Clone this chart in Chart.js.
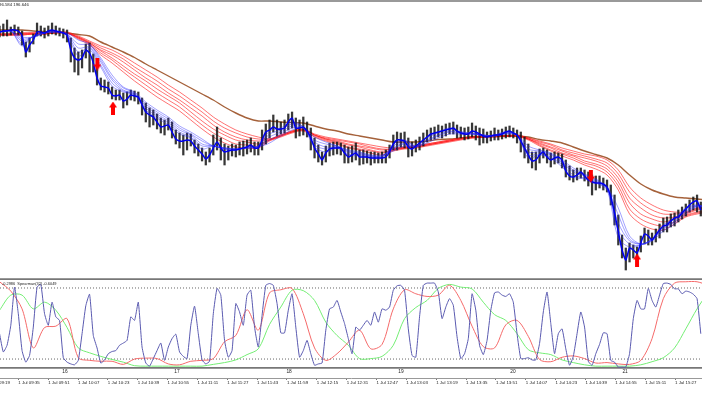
<!DOCTYPE html>
<html>
<head>
<meta charset="utf-8">
<title>Chart</title>
<script src="https://cdn.jsdelivr.net/npm/chart.js@4/dist/chart.umd.min.js"></script>
<style>
html, body { margin: 0; padding: 0; background: #fff; overflow: hidden; }
canvas { position: absolute; left: 0; filter: blur(0.4px); }
#priceChart { top: 0; }
#spearmanChart { top: 278px; }
</style>
</head>
<body>
<canvas id="priceChart" width="702" height="278"></canvas>
<canvas id="spearmanChart" width="702" height="117"></canvas>
<script>
// the price axis is cropped out of the screenshot, so levels are in relative chart units
const priceHeader = '96.584 196.646';
const spearmanHeader = '-0.2986  Spearman(32) -0.6049';

const timeLabels = ['1 Jul 09:19', '1 Jul 09:35', '1 Jul 09:51', '1 Jul 10:07', '1 Jul 10:23', '1 Jul 10:39',
    '1 Jul 10:55', '1 Jul 11:11', '1 Jul 11:27', '1 Jul 11:43', '1 Jul 11:59', '1 Jul 12:15', '1 Jul 12:31',
    '1 Jul 12:47', '1 Jul 13:03', '1 Jul 13:19', '1 Jul 13:35', '1 Jul 13:51', '1 Jul 14:07', '1 Jul 14:23',
    '1 Jul 14:39', '1 Jul 14:55', '1 Jul 15:11', '1 Jul 15:27'];
const timeTickBars = [-5.92, 10, 25.92, 41.84, 57.76, 73.68, 89.6, 105.52, 121.44, 137.36, 153.28, 169.2, 185.12,
    201.04, 216.96, 232.88, 248.8, 264.72, 280.64, 296.56, 312.48, 328.4, 344.32, 360.24];
const dayLabels = ['16', '17', '18', '19', '20', '21'];
const dayBars = [34.9, 94.6, 154.4, 214.1, 273.8, 333.6];

const fineBars = Array.from({ length: 188 }, (_, i) => i * 2);
const coarseBars = Array.from({ length: 64 }, (_, i) => i * 6);

const candleHigh = [
    274,276,280,273,275,273,269,258,262,266,
    277,274,272,274,277,274,272,271,270,262,
    252,248,250,256,257,246,234,222,220,218,
    213,210,210,207,208,210,209,208,202,197,
    192,190,186,182,180,182,178,170,167,165,
    167,166,160,156,152,148,152,165,173,162,
    156,154,156,155,158,159,160,162,158,158,
    170,176,180,185,180,178,180,186,188,182,
    180,183,178,172,162,155,148,154,157,158,
    158,157,155,153,154,157,150,150,149,148,
    148,147,148,150,155,165,168,167,168,162,
    158,160,163,167,170,172,173,175,174,176,
    177,178,175,173,172,173,177,174,172,171,
    168,169,172,170,171,173,174,172,170,168,
    163,156,148,148,151,152,150,147,148,147,
    146,140,134,130,132,132,130,128,125,124,
    124,122,120,115,105,85,65,52,57,55,
    53,64,72,70,67,71,76,82,83,86,
    87,90,93,96,100,103,105,98];
const candleLow = [
    263,264,264,265,266,265,255,243,248,256,
    264,264,262,264,266,265,264,262,258,238,
    228,225,232,242,228,228,215,210,208,206,
    201,200,200,192,195,200,199,196,185,178,
    173,175,171,167,165,170,162,156,152,145,
    150,154,147,144,139,135,138,145,150,140,
    135,140,144,143,145,144,146,148,145,145,
    150,156,162,168,164,166,167,170,172,162,
    164,165,163,150,142,138,135,138,144,145,
    146,145,137,137,138,140,135,136,137,135,
    137,137,137,137,142,150,150,153,152,143,
    144,148,150,154,158,160,161,163,162,164,
    166,166,162,162,160,161,163,160,155,157,
    157,159,160,160,161,162,163,162,157,148,
    142,137,132,130,137,142,137,133,136,137,
    132,123,120,118,120,122,119,114,105,110,
    112,110,108,95,75,55,42,30,38,42,
    42,48,56,55,55,58,62,68,68,73,
    74,78,81,84,88,90,88,84];

// fastest blue average, same spacing as the candles
const blueFast = [
    268,269,269,270,270,269,264,248,255,260,
    268,268,267,269,270,269,268,267,265,250,
    242,240,242,250,247,237,222,214,213,212,
    205,204,205,199,201,205,204,203,195,188,
    185,183,178,173,174,175,168,161,159,159,
    160,159,154,150,146,141,145,152,158,152,
    148,149,150,150,151,152,153,155,152,152,
    160,168,170,173,171,171,172,178,182,172,
    172,173,169,162,152,146,140,147,151,152,
    152,152,147,143,145,147,143,143,143,142,
    142,142,142,143,148,156,160,160,159,153,
    151,154,157,160,163,166,167,168,169,170,
    171,172,169,167,166,166,169,168,166,164,
    163,164,165,165,166,168,169,167,165,159,
    152,145,139,140,145,148,143,140,142,143,
    140,129,124,123,125,128,124,120,118,117,
    117,116,113,103,87,68,50,40,52,50,
    47,57,66,64,60,65,70,74,75,79,
    82,83,87,91,95,98,99,90];

const blue2 = [268,269,254,264,267.5,269,264,244,250,233,214,208,205,190,182,175,166,162,151,154,
    151,150,153,154,169,172,178,173,153,148,152,145,144,142,142,156,160,154,163,168,
    172,168,167,164,165,168,165,142,145,142,133,123,121,117,110,62,53,55,61,75,82,92,95,92];
const blue3 = [268,269,256,264,267,269,265,248,252,235,217,209,206,192,184,177,168,163,154,154,
    151,150,153,154,166,170,176,173,155,151,153,146,145,143,143,154,159,154,162,167,
    171,168,167,164,165,168,165,145,146,143,135,125,122,118,111,70,56,55,61,74,81,91,95,92];
const blue4 = [268,269,259,263,267,268,266,252,253,238,220,210,206,194,186,179,170,165,156,154,
    152,151,152,153,163,168,174,172,158,153,153,148,146,144,144,152,157,153,160,165,
    169,167,166,165,164,167,165,148,148,145,137,128,124,119,112,77,59,56,60,72,79,89,94,92];
const blue5 = [268,269,261,263,267,268,266,256,255,240,222,212,207,196,188,181,172,166,159,154,
    152,151,152,153,160,166,172,172,160,156,154,149,147,144,144,151,156,153,159,164,
    168,167,166,165,164,167,165,151,149,146,138,130,125,120,112,85,61,56,60,71,78,88,94,92];
const blue6 = [268,269,263,263,267,268,267,260,256,242,225,213,208,198,190,183,174,168,161,154,
    152,151,152,153,157,164,170,172,163,158,154,150,148,145,145,149,154,153,157,162,
    166,166,166,165,164,166,165,154,150,147,140,132,126,121,113,92,64,56,59,69,76,86,93,92];

const red1 = [265,265,265,266,266,267,267,261,255,245,237,228,219,211,203,196,189,180,171,163,
    157,153,152,152,159,163,167,169,163,159,156,152,150,147,145,149,151,152,154,156,
    158,160,162,162.5,163,163.5,163.5,160,154,149,144,140,135,131,125,110,86,76,71,70,76,83,86,88];
const red2 = [265,265,265,266,266,267,267,262,256,247,240,231,223,215,207,200,193,184,175,167,
    161,156,155,154,160,164,168,170,164,160,157,153,151,149,147,150,152,153,155,157,
    159,161,162,163,163,164,164,161,155,150,146,142,137,134,128,114,91,81,76,74,78,84,87,89];
const red3 = [265,265,266,266,266,267,267,262,257,249,242,234,226,219,211,204,197,188,179,171,
    165,160,158,156,160,164,168,170,165,161,158,155,153,150,148,150,152,153,155,157,
    159,161,163,163,164,164,164,161,156,152,147,144,139,136,131,118,97,86,81,78,81,85,88,90];
const red4 = [266,266,266,267,267,268,267,263,257,250,245,238,230,222,215,207,200,192,184,175,
    168,163,160,159,160,164,168,170,165,161,159,156,154,152,150,151,152,153,155,157,
    159,161,163,163,164,164,164,161,157,153,149,145,142,139,134,122,102,92,85,82,83,86,90,92];
const red5 = [266,266,267,267,267,268,267,263,258,252,247,241,233,226,219,211,204,196,188,179,
    172,167,163,161,161,165,169,171,165,162,160,158,156,153,151,151,153,154,156,158,
    160,162,163,164,164,164,165,162,158,155,150,147,144,141,137,126,108,97,90,86,86,87,91,93];
const red6 = [266,266,267,267,267,268,268,264,259,254,250,244,237,230,223,215,208,200,192,183,
    176,170,166,163,161,165,169,171,166,163,161,159,157,155,153,152,153,154,156,158,
    160,162,163.5,164,164.5,164.5,165,162,159,156,152,149,146,144,140,130,113,102,95,90,88,88,92,94];

const brownSlow = [270,270,270,269,268.5,268,267,265.5,264,258,253,248,242.5,236,230,224,218,212,206,200,
    193,187,182,179,179,178,177.5,177,174,171,169,166,164,162,160,158,158,158,159,160.5,
    161,162,163,163.5,164,164,164,163,160.5,159,157,153,149,145.5,142,135,125,116,110,106,103,102,101,100];

const upArrowBars = [60.5, 340];
const upArrowLevels = [192, 40];
const downArrowBars = [52.2, 315.4];
const downArrowLevels = [236, 124];

// Spearman panel
const spearmanBlue = [
    -.23,-.64,-.49,-.04,.82,.22,-.61,-.87,-.72,-.08,
    .82,.88,.22,-.04,.48,.15,.07,-.77,-.87,-.91,
    -.93,-.83,-.23,.40,.66,-.27,-.55,-.89,-.82,-.68,
    -.63,-.61,-.49,-.44,-.38,.15,.07,.48,-.53,-.89,
    -.96,-.79,-.61,-.44,-.83,-.53,-.34,-.24,-.64,-.74,
    -.79,-.04,.39,-.23,-.82,-.91,-.85,.22,.79,.64,
    -.38,-.76,-.61,.45,.26,-.04,.64,.75,-.08,-.53,
    .18,.86,.90,.86,.45,-.21,-.21,.30,.67,-.08,
    -.76,-.61,-.38,-.68,-.94,-.91,-.89,-.15,.33,.37,
    .52,.26,0,-.34,-.68,-.08,-.15,-.04,.07,-.04,
    .26,.03,.33,.30,.37,.75,.85,.86,.75,-.12,
    -.72,-.76,.15,.86,.91,.91,.91,.71,.11,.37,
    .56,.41,-.30,-.79,-.68,-.34,.67,.30,-.49,-.70,
    -.38,.30,.69,.71,.64,.61,.67,.48,-.23,-.79,
    -.79,-.77,-.82,-.82,-.45,.26,.71,0,-.68,-.23,
    -.12,-.57,-.94,-.74,-.23,.26,-.08,-.85,-.94,-.68,
    -.47,-.21,-.23,-.83,-.87,-.98,-.98,-.98,-.68,.11,
    .52,.33,.33,.79,.52,.37,.64,.90,.91,.88,
    .78,.78,.67,.73,.71,.66,.56,-.23];
const spearmanRed = [.94,.73,.33,-.55,-.09,-.06,.11,-.77,-.83,-.85,-.85,-.92,-.80,-.78,-.79,-.91,-.93,-.85,-.83,-.79,
    -.41,-.27,.31,-.15,.69,.76,.79,.22,-.55,-.83,-.68,-.42,-.15,-.57,-.47,.33,.76,.67,.61,.64,
    .86,.52,-.06,-.52,-.55,-.03,.07,-.29,-.81,-.86,-.76,-.73,-.79,-.89,-.88,-.91,-.92,-.83,-.34,.56,.91,.94,.94,.86];
const spearmanGreen = [.30,.64,.64,.33,.48,.30,-.09,-.55,-.66,-.74,-.81,-.87,-.95,-.96,-.96,-.96,-.96,-.96,-.96,-.92,
    -.88,-.82,-.70,-.57,-.02,.37,.75,.74,.52,.03,-.27,-.49,-.79,-.79,-.74,-.49,.11,.36,.52,.79,
    .88,.82,.78,.48,.20,.07,-.23,-.59,-.66,-.70,-.82,-.88,-.93,-.96,-.96,-.96,-.96,-.93,-.86,-.77,-.55,-.12,.33,.71];
const spearmanLevels = [0.8, -0.8];
const spearmanFrame = [1, -1];

const barMin = 0.24;
const barMax = 374.64;
const textColor = '#222';

function zip(xs, ys) {
    return ys.map((y, i) => ({ x: xs[i], y: y }));
}

function lineSet(xs, ys, color, width, order, tension) {
    return {
        type: 'line',
        data: zip(xs, ys),
        borderColor: color,
        borderWidth: width,
        pointRadius: 0,
        tension: tension,
        order: order
    };
}

function flatLine(value, color, width, dash) {
    const set = lineSet([barMin, barMax], [value, value], color, width, 9, 0);
    set.borderDash = dash;
    return set;
}

function makeArrow() {
    const c = document.createElement('canvas');
    c.width = 8;
    c.height = 13;
    const g = c.getContext('2d');
    g.fillStyle = '#ff0000';
    g.beginPath();
    g.moveTo(4, 0);
    g.lineTo(8, 6);
    g.lineTo(6, 6);
    g.lineTo(6, 13);
    g.lineTo(2, 13);
    g.lineTo(2, 6);
    g.lineTo(0, 6);
    g.closePath();
    g.fill();
    return c;
}

function arrowSet(xs, ys, rotation) {
    return {
        type: 'scatter',
        data: zip(xs, ys),
        pointStyle: makeArrow(),
        pointRotation: rotation,
        pointRadius: 6,
        showLine: false,
        order: 0
    };
}

const priceText = {
    id: 'priceText',
    afterDraw(chart) {
        const ctx = chart.ctx;
        ctx.save();
        ctx.font = '4.3px "Liberation Sans"';
        ctx.fillStyle = textColor;
        ctx.textBaseline = 'middle';
        ctx.fillText(priceHeader, -1, 5);
        ctx.restore();
    }
};

const spearmanText = {
    id: 'spearmanText',
    afterDraw(chart) {
        const ctx = chart.ctx;
        const xs = chart.scales.x;
        const ys = chart.scales.y;
        ctx.save();
        ctx.font = '3.9px "Liberation Sans"';
        ctx.fillStyle = textColor;
        ctx.textBaseline = 'middle';
        ctx.fillText(spearmanHeader, 2, ys.getPixelForValue(0.9));
        ctx.font = '4.8px "Liberation Sans"';
        ctx.textAlign = 'center';
        dayLabels.forEach((label, i) => {
            ctx.fillText(label, xs.getPixelForValue(dayBars[i]), ys.getPixelForValue(-1.09));
        });
        ctx.restore();
    }
};

const blueThin = 'rgba(40,40,255,0.55)';
const redThin = 'rgba(255,20,20,0.6)';

new Chart(document.getElementById('priceChart'), {
    type: 'bar',
    data: {
        datasets: [
            arrowSet(upArrowBars, upArrowLevels, 0),
            arrowSet(downArrowBars, downArrowLevels, 180),
            lineSet(fineBars, blueFast, '#0000f0', 1.5, 1, 0.2),
            lineSet(coarseBars, blue2, blueThin, 0.8, 2, 0.3),
            lineSet(coarseBars, blue3, blueThin, 0.8, 2, 0.3),
            lineSet(coarseBars, blue4, blueThin, 0.8, 2, 0.3),
            lineSet(coarseBars, blue5, blueThin, 0.8, 2, 0.3),
            lineSet(coarseBars, blue6, blueThin, 0.8, 2, 0.3),
            {
                type: 'bar',
                data: candleLow.map((low, i) => ({ x: fineBars[i], y: [low, candleHigh[i]] })),
                backgroundColor: 'rgba(20,20,20,0.85)',
                barThickness: 1.6,
                order: 3
            },
            lineSet(coarseBars, red1, redThin, 1, 4, 0.3),
            lineSet(coarseBars, red2, redThin, 1, 4, 0.3),
            lineSet(coarseBars, red3, redThin, 1, 4, 0.3),
            lineSet(coarseBars, red4, redThin, 1, 4, 0.3),
            lineSet(coarseBars, red5, redThin, 1, 4, 0.3),
            lineSet(coarseBars, red6, redThin, 1, 4, 0.3),
            lineSet(coarseBars, brownSlow, '#a5613a', 1.4, 5, 0.3),
            flatLine(299, '#999', 2, [])
        ]
    },
    options: {
        responsive: false,
        animation: false,
        layout: { padding: 0, autoPadding: false },
        plugins: { legend: { display: false }, tooltip: { enabled: false } },
        scales: {
            x: { type: 'linear', display: false, offset: false, min: barMin, max: barMax },
            y: { display: false, min: 22, max: 300 }
        }
    },
    plugins: [priceText]
});

new Chart(document.getElementById('spearmanChart'), {
    type: 'line',
    data: {
        datasets: [
            lineSet(fineBars, spearmanBlue, '#5a5ab0', 1, 1, 0.15),
            lineSet(coarseBars, spearmanRed, '#f56a6a', 1, 2, 0.3),
            lineSet(coarseBars, spearmanGreen, '#74ee74', 1, 3, 0.3),
            flatLine(spearmanLevels[0], '#666', 1, [1, 2]),
            flatLine(spearmanLevels[1], '#666', 1, [1, 2]),
            flatLine(spearmanFrame[0], '#777', 1.6, []),
            flatLine(spearmanFrame[1], '#777', 1.6, [])
        ]
    },
    options: {
        responsive: false,
        animation: false,
        layout: { padding: 0, autoPadding: false },
        plugins: { legend: { display: false }, tooltip: { enabled: false } },
        scales: {
            x: {
                type: 'linear',
                min: barMin,
                max: barMax,
                border: { color: '#999' },
                grid: { drawOnChartArea: false, tickLength: 2, tickColor: '#777' },
                ticks: {
                    autoSkip: false,
                    maxRotation: 0,
                    align: 'start',
                    padding: 0,
                    color: textColor,
                    font: { family: 'Liberation Sans', size: 4.4 },
                    callback: (value, i) => timeLabels[i]
                },
                afterBuildTicks: scale => {
                    scale.ticks = timeTickBars.map(value => ({ value: value }));
                },
                afterFit: scale => {
                    scale.height = 17;
                    scale.paddingLeft = 0;
                    scale.paddingRight = 0;
                }
            },
            y: { display: false, min: -1.227, max: 1.025 }
        }
    },
    plugins: [spearmanText]
});
</script>
</body>
</html>
